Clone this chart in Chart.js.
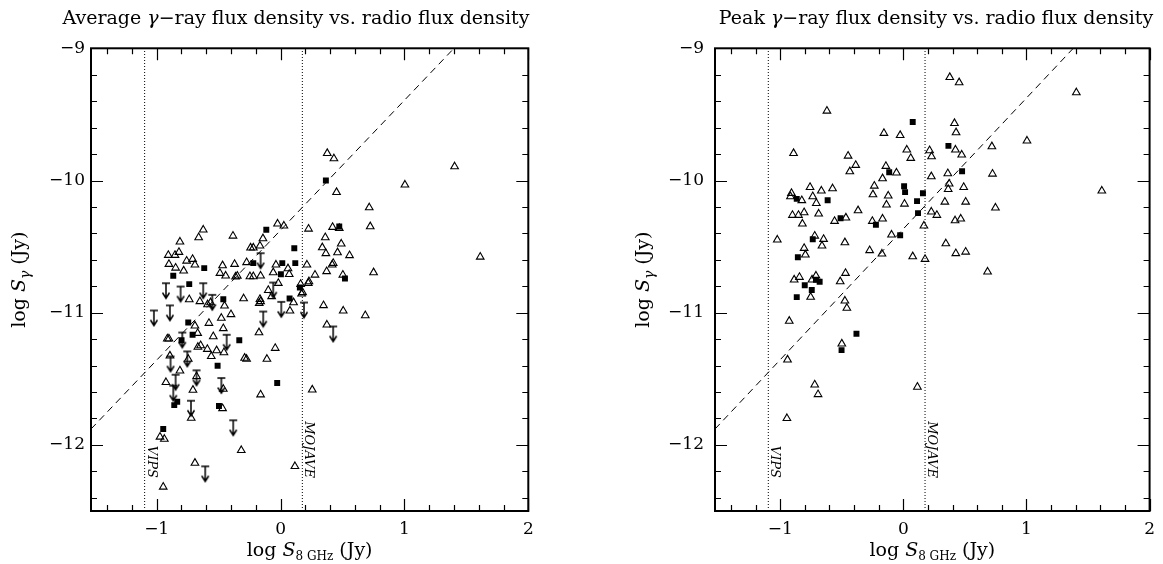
<!DOCTYPE html>
<html>
<head>
<meta charset="utf-8">
<script src="https://cdn.jsdelivr.net/npm/chart.js@4.4.0/dist/chart.umd.min.js"></script>
<style>
  body { margin: 0; background: #fff; }
  #wrap { position: relative; width: 1163px; height: 564px; }
  canvas { position: absolute; top: 0; }
  #avgChart { left: 0; }
  #peakChart { left: 581px; }
</style>
</head>
<body>
<div id="wrap">
  <canvas id="avgChart" width="581" height="564"></canvas>
  <canvas id="peakChart" width="582" height="564"></canvas>
</div>
<script>
/* axis ranges and ticks */
const xRange = [-1.53, 2];
const yRange = [-12.5, -9];
const xMajorTicks = [-1, 0, 1, 2];
const xMinorTicks = [-1.4, -1.2, -0.8, -0.6, -0.4, -0.2, 0.2, 0.4, 0.6, 0.8, 1.2, 1.4, 1.6, 1.8];
const yMajorTicks = [-9, -10, -11, -12];
const yMinorTicks = [-12.4, -12.2, -11.8, -11.6, -11.4, -11.2, -10.8, -10.6, -10.4, -10.2, -9.8, -9.6, -9.4, -9.2];

/* survey flux limits (log Jy) */
const vipsLimit = -1.097;
const mojaveLimit = 0.176;

/* dashed reference line, endpoints [x, y] */
const avgFitLine = [[-1.53, -11.88], [1.40, -9.0]];
const peakFitLine = [[-1.53, -11.88], [1.38, -9.0]];

/* Average gamma-ray flux density panel */
const avgTriangles = [
  [0.377,-9.794],[0.431,-9.834],[0.452,-10.089],[0.716,-10.205],[0.226,-10.366],[0.420,-10.353],[0.474,-10.361],
  [0.724,-10.348],[-0.024,-10.328],[0.027,-10.343],[-0.624,-10.373],[-0.661,-10.431],[-0.812,-10.464],[-0.384,-10.419],
  [-0.142,-10.439],[0.361,-10.431],[-0.242,-10.509],[-0.220,-10.509],[-0.166,-10.494],[0.337,-10.507],[0.366,-10.552],
  [0.490,-10.479],[0.460,-10.545],[0.557,-10.567],[-0.906,-10.565],[-0.852,-10.565],[-0.820,-10.542],[-0.758,-10.608],
  [-0.710,-10.595],[-0.691,-10.638],[-0.901,-10.633],[-0.847,-10.661],[-0.782,-10.683],[-0.468,-10.643],[-0.371,-10.633],
  [-0.274,-10.620],[-0.037,-10.638],[0.060,-10.666],[0.070,-10.709],[0.213,-10.638],[0.278,-10.714],[0.372,-10.688],
  [0.417,-10.638],[0.425,-10.625],[0.503,-10.714],[0.751,-10.696],[-0.489,-10.701],[-0.443,-10.721],[-0.363,-10.729],
  [-0.349,-10.722],[-0.247,-10.726],[-0.220,-10.726],[-0.161,-10.721],[-0.059,-10.696],[-0.018,-10.777],[-0.099,-10.830],
  [-0.072,-10.877],[0.162,-10.784],[0.178,-10.847],[0.170,-10.857],[0.229,-10.764],[0.224,-10.777],[-0.737,-10.900],
  [-0.651,-10.915],[-0.589,-10.938],[-0.565,-10.923],[-0.452,-10.948],[-0.298,-10.893],[-0.172,-10.928],[-0.166,-10.898],
  [-0.161,-10.915],[0.105,-10.923],[0.076,-10.986],[0.347,-10.945],[0.506,-10.986],[0.684,-11.021],[-0.400,-11.013],
  [-0.691,-11.099],[-0.578,-11.079],[-0.478,-11.041],[-0.462,-11.119],[-0.669,-11.155],[-0.543,-11.180],[-0.174,-11.150],
  [0.374,-11.092],[-0.914,-11.197],[-0.901,-11.197],[-0.667,-11.260],[-0.645,-11.248],[-0.591,-11.276],[-0.516,-11.286],
  [-0.457,-11.301],[-0.043,-11.268],[1.004,-10.033],[1.405,-9.895],[1.612,-10.578],[-0.893,-11.326],[-0.745,-11.351],
  [-0.812,-11.439],[-0.925,-11.527],[-0.678,-11.482],[-0.707,-11.585],[-0.721,-11.797],[-0.462,-11.578],[-0.468,-11.724],
  [-0.317,-12.041],[-0.161,-11.620],[-0.290,-11.343],[-0.274,-11.351],[-0.110,-11.351],[0.256,-11.583],[-0.973,-11.940],
  [-0.938,-11.956],[-0.947,-12.318],[-0.691,-12.137],[0.116,-12.162],[-0.559,-11.330]
];
const avgSquares = [
  [0.366,-10.000],[-0.115,-10.373],[0.474,-10.348],[0.111,-10.512],[-0.616,-10.663],[-0.220,-10.625],[0.014,-10.625],
  [0.119,-10.625],[-0.866,-10.721],[0.003,-10.709],[0.520,-10.741],[-0.737,-10.784],[0.156,-10.809],[-0.462,-10.898],
  [0.073,-10.893],[-0.745,-11.074],[-0.710,-11.167],[-0.799,-11.208],[-0.333,-11.208],[-0.858,-11.699],[-0.834,-11.673],
  [-0.508,-11.401],[-0.497,-11.706],[-0.027,-11.532],[-0.947,-11.880]
];
const avgUpperLimits = [
  [-0.925,-10.777],[-0.807,-10.802],[-0.624,-10.777],[-0.551,-10.865],[-0.893,-10.945],[-1.022,-10.983],[-0.161,-10.550],
  [-0.059,-10.772],[0.006,-10.918],[0.189,-10.923],[-0.140,-10.991],[-0.435,-11.167],[-0.793,-11.150],[-0.753,-11.293],
  [0.425,-11.104],[-0.888,-11.331],[-0.847,-11.469],[-0.866,-11.552],[-0.678,-11.436],[-0.723,-11.666],[-0.478,-11.494],
  [-0.382,-11.814],[-0.608,-12.162]
];

/* Peak gamma-ray flux density panel */
const peakTriangles = [
  [0.377,-9.219],[0.453,-9.259],[-0.621,-9.474],[0.415,-9.567],[0.428,-9.637],[-0.158,-9.642],[-0.026,-9.658],
  [-0.892,-9.794],[-0.449,-9.814],[0.028,-9.768],[0.060,-9.831],[0.213,-9.773],[0.229,-9.819],[0.423,-9.768],
  [0.474,-9.806],[0.719,-9.743],[-0.387,-9.884],[-0.435,-9.932],[-0.142,-9.892],[-0.056,-9.942],[-0.169,-9.985],
  [0.227,-9.970],[0.361,-9.947],[0.724,-9.950],[0.372,-10.025],[0.364,-10.066],[0.490,-10.051],[0.748,-10.207],
  [-0.909,-10.096],[-0.917,-10.121],[-0.825,-10.151],[-0.758,-10.051],[-0.736,-10.121],[-0.707,-10.172],[-0.666,-10.078],
  [-0.575,-10.061],[-0.236,-10.041],[-0.247,-10.106],[-0.123,-10.116],[-0.137,-10.184],[0.009,-10.177],[0.337,-10.162],
  [0.506,-10.162],[-0.901,-10.262],[-0.852,-10.262],[-0.806,-10.242],[-0.688,-10.252],[-0.820,-10.328],[-0.559,-10.308],
  [-0.467,-10.282],[-0.368,-10.227],[-0.252,-10.308],[-0.169,-10.290],[0.227,-10.237],[0.272,-10.262],[0.167,-10.343],
  [0.420,-10.303],[0.466,-10.290],[-1.024,-10.449],[-0.720,-10.419],[-0.648,-10.444],[-0.661,-10.494],[-0.475,-10.469],
  [-0.096,-10.411],[-0.806,-10.512],[-0.796,-10.562],[-0.274,-10.529],[-0.174,-10.555],[0.076,-10.575],[0.176,-10.595],
  [0.345,-10.477],[0.426,-10.552],[0.506,-10.540],[0.684,-10.691],[-0.887,-10.751],[-0.844,-10.731],[-0.742,-10.751],
  [-0.710,-10.721],[-0.513,-10.764],[-0.470,-10.701],[-0.753,-10.882],[-0.475,-10.910],[-0.459,-10.965],[-0.927,-11.063],
  [-0.500,-11.235],[-0.941,-11.356],[-0.720,-11.545],[-0.693,-11.618],[-0.946,-11.799],[0.114,-11.562],[1.405,-9.335],
  [1.004,-9.700],[1.612,-10.078]
];
const peakSquares = [
  [0.076,-9.557],[0.366,-9.738],[-0.115,-9.937],[0.477,-9.930],[0.006,-10.043],[0.014,-10.088],[0.159,-10.096],
  [0.111,-10.156],[0.119,-10.247],[-0.866,-10.139],[-0.615,-10.149],[-0.510,-10.285],[-0.223,-10.335],[-0.026,-10.414],
  [-0.736,-10.444],[-0.857,-10.580],[-0.710,-10.751],[-0.680,-10.766],[-0.801,-10.792],[-0.744,-10.829],[-0.866,-10.882],
  [-0.381,-11.159],[-0.502,-11.283]
];

const SERIF = '"DejaVu Serif", "Liberation Serif", serif';

function toXY(list) {
  return list.map(p => ({ x: p[0], y: p[1] }));
}

// upper limit marker: bar at the value, arrow pointing down
function makeLimitArrow() {
  const c = document.createElement('canvas');
  c.width = 12;
  c.height = 34;
  const g = c.getContext('2d');
  g.strokeStyle = '#000';
  g.lineWidth = 1.5;
  g.beginPath();
  g.moveTo(2, 17); g.lineTo(10, 17);
  g.moveTo(6, 17); g.lineTo(6, 32);
  g.moveTo(2.5, 26.5); g.lineTo(6, 32); g.lineTo(9.5, 26.5);
  g.stroke();
  return c;
}
const limitArrow = makeLimitArrow();

// draws a run of text pieces with different fonts, centred on (0,0) baseline
function drawParts(ctx, parts) {
  let total = 0;
  parts.forEach(p => { ctx.font = p.font; p.w = ctx.measureText(p.t).width; total += p.w; });
  let x = -total / 2;
  parts.forEach(p => {
    ctx.font = p.font;
    ctx.fillText(p.t, x, p.dy || 0);
    x += p.w;
  });
}

const panelDecor = {
  id: 'panelDecor',
  afterDraw(chart, args, opts) {
    const ctx = chart.ctx;
    const xs = chart.scales.x, ys = chart.scales.y;
    const a = chart.chartArea;
    ctx.save();
    ctx.fillStyle = '#000';
    ctx.strokeStyle = '#000';

    // frame
    ctx.lineWidth = 2;
    ctx.strokeRect(a.left, a.top, a.right - a.left, a.bottom - a.top);

    // inward ticks on all four sides
    ctx.lineWidth = 1.2;
    ctx.beginPath();
    const xTick = (v, len) => {
      const px = Math.round(xs.getPixelForValue(v)) + 0.5;
      ctx.moveTo(px, a.bottom); ctx.lineTo(px, a.bottom - len);
      ctx.moveTo(px, a.top); ctx.lineTo(px, a.top + len);
    };
    const yTick = (v, len) => {
      const py = Math.round(ys.getPixelForValue(v)) + 0.5;
      ctx.moveTo(a.left, py); ctx.lineTo(a.left + len, py);
      ctx.moveTo(a.right, py); ctx.lineTo(a.right - len, py);
    };
    xMajorTicks.forEach(v => xTick(v, 12));
    xMinorTicks.forEach(v => xTick(v, 6));
    yMajorTicks.forEach(v => yTick(v, 12));
    yMinorTicks.forEach(v => yTick(v, 6));
    ctx.stroke();

    // survey labels, rotated
    ctx.font = 'italic 13px ' + SERIF;
    ctx.textAlign = 'right';
    ctx.textBaseline = 'alphabetic';
    [[vipsLimit, 'VIPS'], [mojaveLimit, 'MOJAVE']].forEach(([v, label]) => {
      ctx.save();
      ctx.translate(xs.getPixelForValue(v) + 3, 478);
      ctx.rotate(Math.PI / 2);
      ctx.fillText(label, 0, 0);
      ctx.restore();
    });

    // panel title
    ctx.textAlign = 'left';
    ctx.save();
    ctx.translate(opts.titleX, 24);
    drawParts(ctx, opts.title);
    ctx.restore();

    // x axis title
    ctx.save();
    ctx.translate((a.left + a.right) / 2, 556);
    drawParts(ctx, [
      { t: 'log ', font: '19px ' + SERIF },
      { t: 'S', font: 'italic 19px ' + SERIF },
      { t: '8 GHz', font: '12px ' + SERIF, dy: 4 },
      { t: ' (Jy)', font: '19px ' + SERIF }
    ]);
    ctx.restore();

    // y axis title
    ctx.save();
    ctx.translate(a.left - opts.yTitleGap, (a.top + a.bottom) / 2);
    ctx.rotate(-Math.PI / 2);
    drawParts(ctx, [
      { t: 'log ', font: '19px ' + SERIF },
      { t: 'S', font: 'italic 19px ' + SERIF },
      { t: '\u03B3', font: 'italic 14px ' + SERIF, dy: 5 },
      { t: ' (Jy)', font: '19px ' + SERIF }
    ]);
    ctx.restore();

    ctx.restore();
  }
};

function minusLabel(v) {
  return v < 0 ? '\u2212' + Math.abs(v) : String(v);
}

function buildChart(canvasId, cfg) {
  const datasets = [
    {
      label: 'fit',
      data: toXY(cfg.fitLine),
      showLine: true,
      borderColor: '#000',
      borderWidth: 1,
      borderDash: [7, 5],
      pointRadius: 0
    },
    {
      label: 'VIPS',
      data: [{ x: vipsLimit, y: yRange[0] }, { x: vipsLimit, y: yRange[1] }],
      showLine: true,
      borderColor: '#000',
      borderWidth: 1,
      borderDash: [1, 2],
      pointRadius: 0
    },
    {
      label: 'MOJAVE',
      data: [{ x: mojaveLimit, y: yRange[0] }, { x: mojaveLimit, y: yRange[1] }],
      showLine: true,
      borderColor: '#000',
      borderWidth: 1,
      borderDash: [1, 2],
      pointRadius: 0
    },
    {
      label: 'triangles',
      data: toXY(cfg.triangles),
      pointStyle: 'triangle',
      pointRadius: 4.4,
      borderColor: '#000',
      borderWidth: 1.1,
      backgroundColor: 'rgba(0,0,0,0)'
    },
    {
      label: 'squares',
      data: toXY(cfg.squares),
      pointStyle: 'rect',
      pointRadius: 4.2,
      borderWidth: 0,
      backgroundColor: '#000'
    }
  ];
  if (cfg.limits) {
    datasets.push({
      label: 'upper limits',
      data: toXY(cfg.limits),
      pointStyle: limitArrow,
      pointRadius: 6
    });
  }

  return new Chart(document.getElementById(canvasId), {
    type: 'scatter',
    data: { datasets },
    plugins: [panelDecor],
    options: {
      responsive: false,
      animation: false,
      events: [],
      layout: { padding: cfg.padding },
      plugins: {
        legend: { display: false },
        tooltip: { enabled: false },
        panelDecor: { title: cfg.title, titleX: cfg.titleX, yTitleGap: cfg.yTitleGap }
      },
      scales: {
        x: {
          type: 'linear',
          min: xRange[0],
          max: xRange[1],
          grid: { display: false, drawTicks: false },
          border: { display: false },
          afterBuildTicks: s => { s.ticks = xMajorTicks.map(v => ({ value: v })); },
          afterFit: s => { s.height = 53; },
          ticks: {
            color: '#000',
            padding: 8,
            maxRotation: 0,
            font: { family: SERIF, size: 17 },
            callback: minusLabel
          }
        },
        y: {
          type: 'linear',
          min: yRange[0],
          max: yRange[1],
          grid: { display: false, drawTicks: false },
          border: { display: false },
          afterBuildTicks: s => { s.ticks = yMajorTicks.map(v => ({ value: v })); },
          afterFit: s => { s.width = cfg.yAxisWidth; },
          ticks: {
            color: '#000',
            padding: cfg.yTickPad,
            font: { family: SERIF, size: 17 },
            callback: minusLabel
          }
        }
      }
    }
  });
}

buildChart('avgChart', {
  fitLine: avgFitLine,
  triangles: avgTriangles,
  squares: avgSquares,
  limits: avgUpperLimits,
  padding: { left: 0, top: 48.3, right: 52.7, bottom: 0 },
  yAxisWidth: 91,
  yTickPad: 6,
  yTitleGap: 66,
  titleX: 296,
  title: [
    { t: 'Average ', font: '19px ' + SERIF },
    { t: '\u03B3', font: 'italic 19px ' + SERIF },
    { t: '\u2212ray flux density vs. radio flux density', font: '19px ' + SERIF }
  ]
});

buildChart('peakChart', {
  fitLine: peakFitLine,
  triangles: peakTriangles,
  squares: peakSquares,
  limits: null,
  padding: { left: 0, top: 48.3, right: 11.3, bottom: 0 },
  yAxisWidth: 134,
  yTickPad: 11,
  yTitleGap: 66,
  titleX: 355,
  title: [
    { t: 'Peak ', font: '19px ' + SERIF },
    { t: '\u03B3', font: 'italic 19px ' + SERIF },
    { t: '\u2212ray flux density vs. radio flux density', font: '19px ' + SERIF }
  ]
});
</script>
</body>
</html>
